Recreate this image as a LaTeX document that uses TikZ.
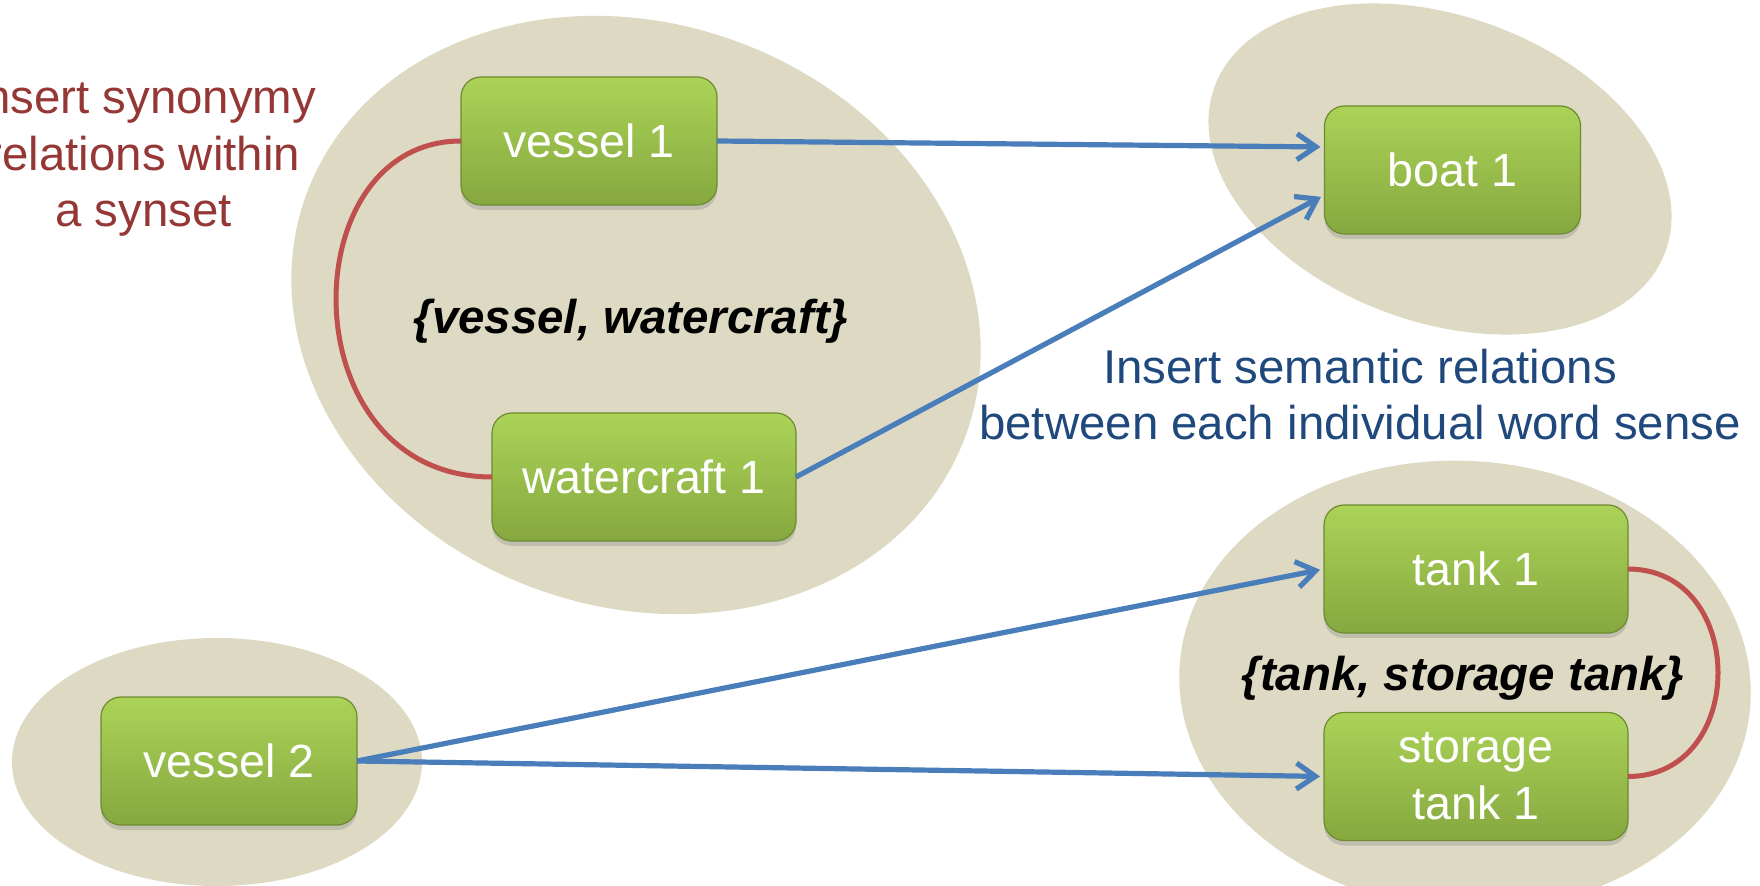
\documentclass[tikz,border=0pt]{standalone}
\usepackage{fontspec}
\setmainfont{Liberation Sans}
\usetikzlibrary{arrows.meta,shadows}

\definecolor{sand}{HTML}{DDD9C3}
\definecolor{boxtop}{HTML}{ABD357}
\definecolor{boxbot}{HTML}{86A840}
\definecolor{boxrim}{HTML}{6E8B30}
\definecolor{linkblue}{HTML}{4A7EBB}
\definecolor{synred}{HTML}{C0504D}
\definecolor{notered}{HTML}{953735}
\definecolor{noteblue}{HTML}{1F497D}

\begin{document}
\begin{tikzpicture}[x=0.5pt,y=-0.5pt,
  sense/.style={draw=boxrim, line width=0.6pt, rounded corners=10pt,
    top color=boxtop, bottom color=boxbot, minimum height=64pt,
    inner sep=0pt, outer sep=0pt, text=white, align=center,
    font=\fontsize{23.3pt}{28.5pt}\selectfont,
    drop shadow={shadow xshift=0pt, shadow yshift=-2.5pt, opacity=0.3}},
  narrow/.style={sense, minimum width=128pt},
  wide/.style={sense, minimum width=152pt},
  blob/.style={fill=sand},
  syn/.style={font=\fontsize{23.7pt}{28.5pt}\selectfont\bfseries\itshape, anchor=base},
  note/.style={font=\fontsize{23.7pt}{28.3pt}\selectfont, align=center, anchor=base},
  rel/.style={draw=linkblue, line width=2.6pt,
    -{Straight Barb[length=9.5pt,width=13pt]}, shorten >=2pt},
  syno/.style={draw=synred, line width=2.5pt}]

\useasboundingbox (0,0) rectangle (1760,886);
\clip (0,0) rectangle (1760,886);

% synset regions
\fill[blob, rotate around={-20:(636,315)}] (636,315) ellipse [x radius=351, y radius=291.5];
\fill[blob, rotate around={-20:(1440,169)}] (1440,169) ellipse [x radius=240, y radius=153];
\fill[blob, rotate around={-4:(1465,685)}] (1465,685) ellipse [x radius=286, y radius=224];
\fill[blob] (217,762) ellipse [x radius=205, y radius=124];

% captions (anchored on the baseline of their last line)
\node[note, text=notered] (synnote) at (143.5,227) {Insert synonymy\\relations within\\a synset};
\node[note, text=noteblue] (semnote) at (1360,440) {Insert semantic relations\\between each individual word sense};
\node[syn] (synA) at (631,334) {\{vessel, watercraft\}};
\node[syn] (synC) at (1463,690) {\{tank, storage tank\}};

% word senses
\node[narrow] (vessel1) at (589,141) {vessel 1};
\node[wide]   (water1)  at (644,477) {watercraft 1};
\node[narrow] (boat1)   at (1452.5,170) {boat 1};
\node[wide]   (tank1)   at (1476,569) {tank 1};
\node[wide]   (stor1)   at (1476,776.5) {storage\\tank 1};
\node[narrow] (vessel2) at (229,761) {vessel 2};

% synonymy links
\draw[syno] (vessel1.west) .. controls +(-171,0) and +(-203,0) .. (water1.west);
\draw[syno] (tank1.east) .. controls +(120,0) and +(120,0) .. (stor1.east);

% semantic relations
\draw[rel] (vessel1.east) -- ([yshift=11.5pt]boat1.west);
\draw[rel] (water1.east) -- ([yshift=-12.5pt]boat1.west);
\draw[rel] (vessel2.east) -- (tank1.west);
\draw[rel] (vessel2.east) -- (stor1.west);
\end{tikzpicture}
\end{document}
